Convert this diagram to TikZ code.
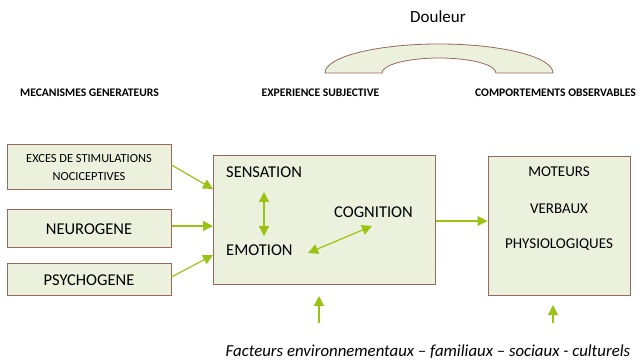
\documentclass[tikz,border=0pt]{standalone}
\usepackage{fontspec}
\setmainfont{Carlito}
\usetikzlibrary{arrows.meta}
\definecolor{boxfill}{RGB}{235,241,221}
\definecolor{boxline}{RGB}{150,105,95}
\definecolor{arrowgreen}{RGB}{155,195,20}
\begin{document}
\begin{tikzpicture}[x=1pt,y=-1pt,
  box/.style={draw=boxline,fill=boxfill,line width=1pt},
  conn/.style={draw=arrowgreen,line width=1.2pt,-{Triangle[length=10pt,width=10pt]}},
  biconn/.style={draw=arrowgreen,line width=1.2pt,{Triangle[length=10pt,width=10pt]}-{Triangle[length=10pt,width=10pt]}},
  hdr/.style={font=\bfseries\fontsize{11.6}{13}\selectfont,inner sep=0pt},
  txt/.style={font=\fontsize{16.5}{18}\selectfont,inner sep=0pt},
  rtxt/.style={font=\fontsize{15}{17}\selectfont,inner sep=0pt}]
\useasboundingbox (0,0) rectangle (643,363);
% arc shape
\filldraw[draw=boxline,fill=boxfill,line width=0.8pt]
  (325,73) arc[start angle=180,end angle=0,x radius=114,y radius=-29]
  -- (496,73) arc[start angle=0,end angle=180,x radius=57,y radius=-15] -- cycle;
\node[inner sep=0pt,font=\fontsize{17}{19}\selectfont] (douleur) at (438,17) {Douleur};
% headers
\node[hdr] (h1) at (89.5,93) {MECANISMES GENERATEURS};
\node[hdr] (h2) at (320.5,93) {EXPERIENCE SUBJECTIVE};
\node[hdr] (h3) at (555.5,93) {COMPORTEMENTS OBSERVABLES};
% left boxes
\node[box,minimum width=164pt,minimum height=45pt,inner sep=0pt,align=center,font=\fontsize{12.4}{18}\selectfont] (exces) at (89,167.5) {EXCES DE STIMULATIONS\\NOCICEPTIVES};
\node[box,minimum width=164pt,minimum height=38pt,inner sep=0pt,font=\fontsize{16.5}{18}\selectfont] (neuro) at (89,229) {NEUROGENE};
\node[box,minimum width=164pt,minimum height=32pt,inner sep=0pt,font=\fontsize{16.5}{18}\selectfont] (psycho) at (89,280) {PSYCHOGENE};
% central box
\node[box,minimum width=222pt,minimum height=129pt,inner sep=0pt] (central) at (324,220.5) {};
\node[txt,anchor=west] (sensation) at (226,172) {SENSATION};
\node[txt,anchor=west] (emotion) at (226,250) {EMOTION};
\node[txt,anchor=west] (cognition) at (334,212) {COGNITION};
% right box
\node[box,minimum width=142pt,minimum height=139pt,inner sep=0pt] (right) at (559,226.5) {};
\node[rtxt] (moteurs) at (559,172) {MOTEURS};
\node[rtxt] (verbaux) at (559,209) {VERBAUX};
\node[rtxt] (physio) at (559,245) {PHYSIOLOGIQUES};
% bottom text
\node[inner sep=0pt,font=\itshape\fontsize{16.8}{19}\selectfont] (facteurs) at (428,352) {Facteurs environnementaux -- familiaux -- sociaux - culturels};
% coordinates
\coordinate (c1) at (213,189);
\coordinate (c2) at (213,226);
\coordinate (c3) at (213,255);
\coordinate (s1) at (264,192);
\coordinate (s2) at (264,236);
\coordinate (e1) at (308,253);
\coordinate (e2) at (372,226);
\coordinate (u1) at (319,323);
\coordinate (u1t) at (319,296);
\coordinate (u2) at (553,323);
\coordinate (u2t) at (553,305);
% connectors
\draw[conn] (exces.east |- 0,165) -- (c1);
\draw[conn] (neuro.east |- 0,226) -- (c2);
\draw[conn] (psycho.east |- 0,277) -- (c3);
\draw[biconn] (s1) -- (s2);
\draw[biconn] (e1) -- (e2);
\draw[conn] (central.east |- 0,221) -- (right.west |- 0,221);
\draw[conn] (u1) -- (u1t);
\draw[conn] (u2) -- (u2t);
\end{tikzpicture}
\end{document}
